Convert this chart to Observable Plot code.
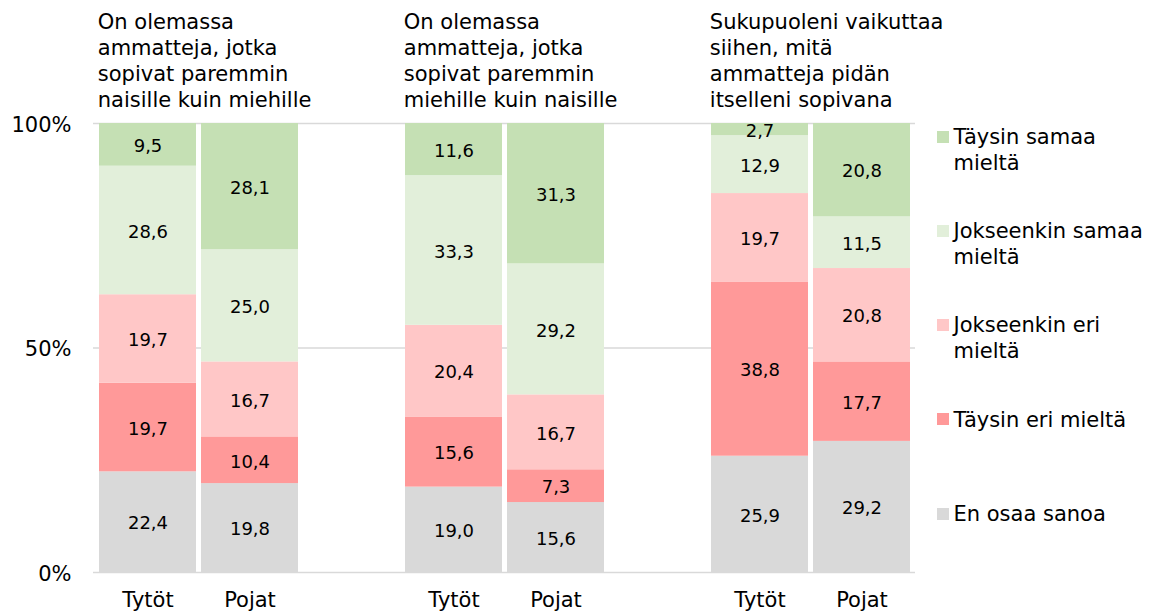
<!DOCTYPE html>
<html>
<head>
<meta charset="utf-8">
<script src="https://cdn.jsdelivr.net/npm/d3@7"></script>
<script src="https://cdn.jsdelivr.net/npm/@observablehq/plot@0.6"></script>
<style>
  html, body { margin: 0; padding: 0; background: #fff; }
  body { width: 1160px; height: 614px; position: relative; overflow: hidden;
         font-family: Verdana, "DejaVu Sans", sans-serif; color: #000; }
  #legend { position: absolute; left: 937px; top: 124px; }
  .item { display: flex; align-items: flex-start; height: 94.2px; }
  .sw { width: 12px; height: 12px; margin-top: 6.8px; margin-right: 4.5px; flex: none; }
  .lab { font-size: 21px; line-height: 26px; white-space: pre-line; }
</style>
</head>
<body>
<div id="chart"></div>
<div id="legend"></div>
<script>
// ---- data ----
const groups = ["g1", "g2", "g3"];
const titles = [
  "On olemassa\nammatteja, jotka\nsopivat paremmin\nnaisille kuin miehille",
  "On olemassa\nammatteja, jotka\nsopivat paremmin\nmiehille kuin naisille",
  "Sukupuoleni vaikuttaa\nsiihen, mitä\nammatteja pidän\nitselleni sopivana"
];
const genders = ["Tytöt", "Pojat"];
// stacking order: bottom to top
const categories = ["En osaa sanoa", "Täysin eri mieltä", "Jokseenkin eri mieltä", "Jokseenkin samaa mieltä", "Täysin samaa mieltä"];
const colors = ["#d9d9d9", "#ff9999", "#ffc7c7", "#e2efda", "#c5e0b4"];
// legend labels (top to bottom)
const legendLabels = ["Täysin samaa\nmieltä", "Jokseenkin samaa\nmieltä", "Jokseenkin eri\nmieltä", "Täysin eri mieltä", "En osaa sanoa"];
// values per bar: g1 Tytöt, g1 Pojat, g2 Tytöt, g2 Pojat, g3 Tytöt, g3 Pojat
const enOsaa        = [22.4, 19.8, 19.0, 15.6, 25.9, 29.2];
const taysinEri     = [19.7, 10.4, 15.6,  7.3, 38.8, 17.7];
const jokseenkinEri = [19.7, 16.7, 20.4, 16.7, 19.7, 20.8];
const jokseenkinSam = [28.6, 25.0, 33.3, 29.2, 12.9, 11.5];
const taysinSamaa   = [ 9.5, 28.1, 11.6, 31.3,  2.7, 20.8];
const yTicks = [0, 0.5, 1];

// ---- build ----
const series = [enOsaa, taysinEri, jokseenkinEri, jokseenkinSam, taysinSamaa];
const barKeys = groups.flatMap(g => genders.map(s => g + "|" + s));
const xDomain = [];
groups.forEach((g, i) => {
  genders.forEach(s => xDomain.push(g + "|" + s));
  if (i < groups.length - 1) xDomain.push(g + "|gap");
});
const data = [];
categories.forEach((c, ci) => {
  barKeys.forEach((k, bi) => data.push({x: k, category: c, value: series[ci][bi]}));
});

const W = 1160, H = 614, ML = 93, MR = 245, MT = 123, MB = 42;
const padIn = 0.052, padOut = 0.026;
const step = (W - ML - MR) / (xDomain.length - padIn + 2 * padOut);
const bw = step * (1 - padIn);
const fmt = v => d3.format(".1f")(v).replace(".", ",");
const font = 'Verdana, "DejaVu Sans", sans-serif';

const stackOpts = {offset: "normalize", x: "x", y: "value", z: "category"};

const chart = Plot.plot({
  width: W, height: H,
  marginLeft: ML, marginRight: MR, marginTop: MT, marginBottom: MB,
  style: {fontFamily: font, fontSize: "21px", color: "#000", background: "#fff", overflow: "visible"},
  x: {domain: xDomain, paddingInner: padIn, paddingOuter: padOut, axis: null, label: null},
  y: {domain: [0, 1], axis: null, label: null},
  color: {domain: categories, range: colors},
  marks: [
    Plot.ruleY(yTicks, {stroke: "#d9d9d9", strokeWidth: 1.5}),
    Plot.barY(data, Plot.stackY({...stackOpts, fill: "category"})),
    Plot.text(data, Plot.stackY({...stackOpts, text: d => fmt(d.value), fontSize: 18, dy: 1.5, fill: "#000"})),
    Plot.axisX({ticks: barKeys, tickFormat: k => k.split("|")[1], tickSize: 0, tickPadding: 20, fontSize: 21, fill: "#000", label: null}),
    Plot.axisY({ticks: yTicks, tickFormat: d3.format(".0%"), tickSize: 0, tickPadding: 22, fontSize: 21, dy: 1.5, fill: "#000", label: null}),
    Plot.text(titles, {
      x: (d, i) => groups[i] + "|" + genders[0],
      y: () => 1,
      text: d => d,
      textAnchor: "start", lineAnchor: "bottom", lineHeight: 26 / 21,
      dx: -bw / 2 - 1.5, dy: -17, fontSize: 21, fill: "#000"
    })
  ]
});
document.getElementById("chart").appendChild(chart);

// ---- legend ----
const legend = document.getElementById("legend");
legendLabels.forEach((lab, i) => {
  const item = document.createElement("div");
  item.className = "item";
  const sw = document.createElement("div");
  sw.className = "sw";
  sw.style.background = colors[colors.length - 1 - i];
  const t = document.createElement("div");
  t.className = "lab";
  t.textContent = lab;
  item.appendChild(sw); item.appendChild(t);
  legend.appendChild(item);
});
</script>
</body>
</html>
